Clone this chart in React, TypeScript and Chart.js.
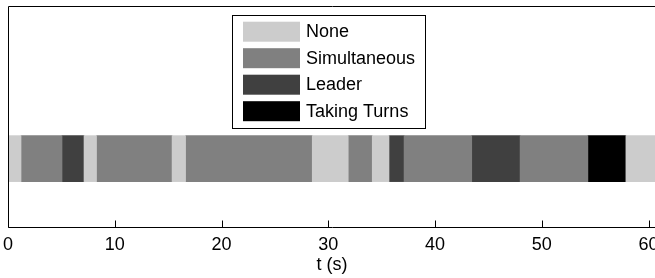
import React, { useEffect, useRef } from 'react';
import { Chart, registerables } from 'chart.js';

Chart.register(...registerables);

// ---- data ----
const categories = ['None', 'Simultaneous', 'Leader', 'Taking Turns'];
const categoryColors = ['#cccccc', '#808080', '#404040', '#000000'];

const segmentStates = [
  'None', 'Simultaneous', 'Leader', 'None', 'Simultaneous', 'None', 'Simultaneous', 'None',
  'Simultaneous', 'None', 'Leader', 'Simultaneous', 'Leader', 'Simultaneous', 'Taking Turns', 'None',
];
const segmentStarts = [0, 1.22, 5.06, 7.12, 8.29, 15.37, 16.63, 28.5, 31.87, 34.12, 35.69, 37.1, 43.44, 47.97, 54.32, 57.88];
const segmentEnds = [1.22, 5.06, 7.12, 8.29, 15.37, 16.63, 28.5, 31.87, 34.12, 35.69, 37.1, 43.44, 47.97, 54.32, 57.88, 60.7];

const xTicks = [0, 10, 20, 30, 40, 50, 60];
const xLabel = 't (s)';
const rowValue = 1.5;

const FONT = '"Liberation Sans", Arial, Helvetica, sans-serif';

export default function App() {
  const ref = useRef<HTMLCanvasElement>(null);

  useEffect(() => {
    const canvas = ref.current;
    if (!canvas) return;

    const datasets = categories.map((cat, ci) => ({
      label: cat,
      data: segmentStates
        .map((s, i) => (s === cat ? { x: [segmentStarts[i], segmentEnds[i]], y: rowValue } : null))
        .filter((d) => d !== null),
      backgroundColor: categoryColors[ci],
      borderWidth: 0,
      barThickness: 46,
      grouped: false,
    }));

    const framePlugin = {
      id: 'frame',
      afterDatasetsDraw(chart: any) {
        const { ctx, chartArea } = chart;
        const xs = chart.scales.x;
        ctx.save();
        ctx.strokeStyle = '#000';
        ctx.lineWidth = 1;
        ctx.beginPath();
        const l = Math.round(chartArea.left) + 0.5;
        const t = Math.round(chartArea.top) + 0.5;
        const r = Math.round(chartArea.right) + 0.5;
        const b = Math.round(chartArea.bottom) - 0.5;
        ctx.rect(l, t, r - l, b - t);
        ctx.stroke();
        ctx.beginPath();
        xTicks.forEach((v) => {
          const px = Math.round(xs.getPixelForValue(v)) + 0.5;
          ctx.moveTo(px, b);
          ctx.lineTo(px, b - 7);
        });
        ctx.stroke();
        ctx.restore();
      },
    };

    const legendPlugin = {
      id: 'legendBox',
      afterDraw(chart: any) {
        const { ctx } = chart;
        ctx.save();
        const bx = 232.5, by = 15.5, bw = 193, bh = 113;
        ctx.fillStyle = '#fff';
        ctx.fillRect(bx, by, bw, bh);
        ctx.strokeStyle = '#000';
        ctx.lineWidth = 1;
        ctx.strokeRect(bx, by, bw, bh);
        ctx.font = `18px ${FONT}`;
        ctx.textBaseline = 'middle';
        ctx.textAlign = 'left';
        categories.forEach((cat, i) => {
          const top = 21.7 + i * 26.5;
          ctx.fillStyle = categoryColors[i];
          ctx.fillRect(243, top, 57, 20);
          ctx.fillStyle = '#000';
          ctx.fillText(cat, 306, top + 10.5);
        });
        ctx.restore();
      },
    };

    const chart = new Chart(canvas, {
      type: 'bar',
      data: { datasets: datasets as any },
      options: {
        indexAxis: 'y',
        responsive: false,
        animation: false,
        events: [],
        layout: { padding: { left: 8, top: 6, right: 4, bottom: 2 } },
        plugins: { legend: { display: false }, tooltip: { enabled: false } },
        scales: {
          x: {
            type: 'linear',
            min: 0,
            max: 60.7,
            grid: { display: false, drawTicks: false },
            border: { display: false },
            afterBuildTicks(scale: any) {
              scale.ticks = xTicks.map((v) => ({ value: v }));
            },
            afterFit(scale: any) {
              scale.height = 48;
              scale.paddingLeft = 0;
              scale.paddingRight = 0;
            },
            ticks: {
              padding: 6,
              color: '#000',
              font: { family: FONT, size: 18 },
            },
            title: {
              display: true,
              text: xLabel,
              color: '#000',
              font: { family: FONT, size: 18 },
              padding: { top: 0, bottom: 0 },
            },
          },
          y: { type: 'linear', min: 0, max: 4.8, offset: false, display: false },
        },
      },
      plugins: [framePlugin, legendPlugin],
    } as any);

    return () => chart.destroy();
  }, []);

  return (
    <div style={{ position: 'fixed', left: 0, top: 0, width: 655, height: 278, overflow: 'hidden', background: '#fff' }}>
      <canvas ref={ref} width={660} height={278} style={{ width: 660, height: 278, display: 'block' }} />
    </div>
  );
}
